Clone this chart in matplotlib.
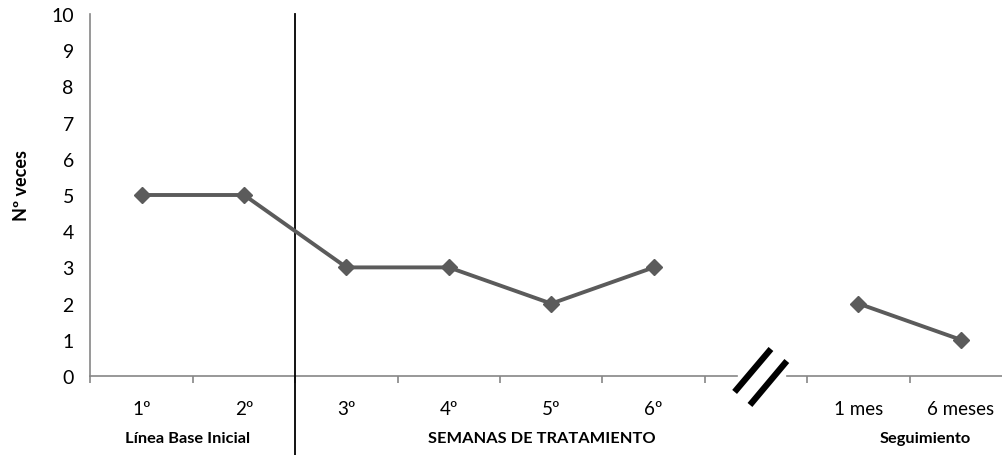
import matplotlib.pyplot as plt
import matplotlib.transforms as mtransforms
import numpy as np

# datos
categorias = ['1º', '2º', '3º', '4º', '5º', '6º', '', '1 mes', '6 meses']
veces = [5, 5, 3, 3, 2, 3, np.nan, 2, 1]
grupos = ['Línea Base Inicial', 'SEMANAS DE TRATAMIENTO', 'Seguimiento']
grupos_x = [0.95, 4.41, 8.15]

plt.rcParams['font.family'] = ['Lato', 'DejaVu Sans']

fig = plt.figure(figsize=(10.03, 4.56), dpi=100)
ax = fig.add_axes([90.5 / 1003, 79 / 456, 921.6 / 1003, 362 / 456])

gris = '#868686'
x = np.arange(len(categorias)) + 0.5
ax.plot(x, veces, color='#5b5b5b', lw=2.8, marker='D', markersize=8.5, zorder=3)

ax.set_xlim(0, 9)
ax.set_ylim(0, 10)
ax.set_yticks(range(0, 11))
ax.tick_params(axis='y', length=0, pad=12, labelsize=14, colors='black')
ax.set_xticks(range(0, 10))
ax.set_xticklabels([])
ax.tick_params(axis='x', which='major', length=5, width=1.2, color=gris)
ax.set_xticks(x, minor=True)
ax.set_xticklabels(categorias, minor=True)
ax.tick_params(axis='x', which='minor', length=0, pad=17, labelsize=13.5)

for s in ['top', 'right', 'bottom']:
    ax.spines[s].set_visible(False)
ax.spines['left'].set_color(gris)
ax.spines['left'].set_linewidth(1.2)

# eje x con corte
ax.plot([0, 6.31], [0, 0], color=gris, lw=1.2, clip_on=False, zorder=2)
ax.plot([6.80, 9], [0, 0], color=gris, lw=1.2, clip_on=False, zorder=2)
ax.plot([6.29, 6.645], [-0.44, 0.746], color='black', lw=4.5, solid_capstyle='butt', clip_on=False)
ax.plot([6.44, 6.80], [-0.80, 0.414], color='black', lw=4.5, solid_capstyle='butt', clip_on=False)

# linea de cambio de fase
trans = mtransforms.blended_transform_factory(ax.transData, ax.transAxes)
ax.plot([2, 2], [1.0, -0.25], color='black', lw=1.3, transform=trans, clip_on=False)

for g, gx in zip(grupos, grupos_x):
    ax.text(gx, -0.172, g, transform=trans, ha='center', va='center',
            fontsize=11.8, fontweight='bold')

ax.set_ylabel('Nº veces', fontsize=13, fontweight='bold')
ax.yaxis.set_label_coords(-0.066, 0.528)

fig.savefig('out.png', dpi=100)
